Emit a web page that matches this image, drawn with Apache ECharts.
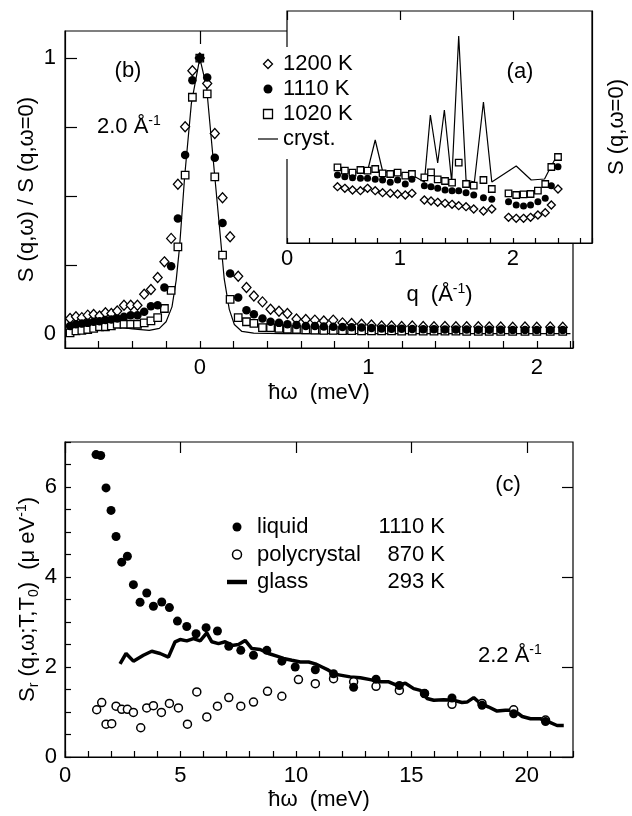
<!DOCTYPE html>
<html><head><meta charset="utf-8">
<script src="https://cdn.jsdelivr.net/npm/echarts@6/dist/echarts.min.js"></script>
<style>html,body{margin:0;padding:0;background:#fff}#c{width:632px;height:816px}</style>
</head><body><div id="c"></div>
<script>
// ---------- panel (b): S(q,w)/S(q,w=0) at 2.0 A^-1 ----------
const omegaB = [-0.77,-0.735,-0.70,-0.665,-0.63,-0.595,-0.56,-0.525,-0.49,-0.45,-0.41,-0.37,-0.33,-0.29,-0.25,-0.21,-0.17,-0.13,-0.087,-0.044,0,
  0.044,0.089,0.135,0.18,0.228,0.277,0.321,0.372,0.42,0.47,0.52,0.574,0.629,0.683,0.736,0.792,0.847,0.901,0.96,1.019,1.079,1.138,1.198,1.261,1.326,1.39,1.455,1.52,1.584,1.653,1.718,1.786,1.857,1.93,2.0,2.08,2.154];
const b1200 = [0.057,0.063,0.060,0.069,0.071,0.066,0.078,0.075,0.084,0.105,0.105,0.105,0.145,0.162,0.205,0.262,0.347,0.543,0.751,0.954,1,
  0.908,0.727,0.494,0.353,0.21,0.169,0.138,0.117,0.090,0.083,0.075,0.055,0.053,0.051,0.048,0.051,0.041,0.039,0.036,0.033,0.030,0.030,0.028,0.030,0.028,0.027,0.028,0.027,0.027,0.027,0.026,0.026,0.025,0.026,0.025,0.026,0.025];
const b1110 = [0.030,0.036,0.039,0.041,0.045,0.047,0.051,0.053,0.057,0.063,0.069,0.069,0.081,0.101,0.105,0.169,0.246,0.419,0.649,0.920,1,
  0.930,0.639,0.403,0.220,0.133,0.087,0.072,0.057,0.045,0.041,0.036,0.033,0.030,0.030,0.028,0.027,0.026,0.025,0.024,0.022,0.021,0.02,0.02,0.019,0.018,0.018,0.017,0.017,0.017,0.016,0.016,0.016,0.015,0.015,0.015,0.015,0.015];
const b1020 = [0.005,0.012,0.014,0.017,0.021,0.027,0.027,0.030,0.036,0.036,0.036,0.036,0.041,0.048,0.060,0.093,0.159,0.316,0.576,0.858,1,
  0.870,0.570,0.286,0.126,0.060,0.045,0.039,0.024,0.024,0.021,0.018,0.017,0.016,0.015,0.014,0.014,0.013,0.013,0.012,0.012,0.012,0.012,0.011,0.011,0.011,0.011,0.011,0.011,0.01,0.01,0.01,0.01,0.01,0.01,0.01,0.01,0.01];
const crystOmega = [-0.80,-0.70,-0.60,-0.50,-0.40,-0.30,-0.24,-0.20,-0.165,-0.14,-0.12,-0.09,-0.05,0,0.04,0.08,0.115,0.145,0.175,0.205,0.25,0.32,0.5,1.0,1.5,2.2];
const crystB = [0.0,0.007,0.014,0.027,0.019,0.014,0.021,0.045,0.099,0.196,0.316,0.57,0.836,1,0.896,0.63,0.40,0.20,0.09,0.035,0.01,0.004,0.002,0.002,0.002,0.002];
const bYTicks = [0,0.25,0.5,0.75,1];
const bYLabels = [0,1];
const bXMajor = [0,1,2];

// ---------- inset (a): S(q,w=0) vs q ----------
const qA = [0.447,0.512,0.580,0.650,0.713,0.781,0.846,0.914,0.979,1.047,1.106,1.216,1.275,1.334,1.399,1.461,1.520,1.585,1.653,1.739,1.813,1.961,2.029,2.094,2.156,2.221,2.286,2.340,2.399];
const a1200 = [0.563,0.547,0.530,0.523,0.547,0.523,0.503,0.497,0.490,0.480,0.497,0.430,0.420,0.407,0.397,0.387,0.373,0.363,0.340,0.320,0.340,0.257,0.247,0.247,0.257,0.280,0.303,0.380,0.540];
const a1110 = [0.680,0.663,0.653,0.647,0.647,0.637,0.630,0.607,0.630,0.590,0.637,0.573,0.563,0.547,0.530,0.523,0.523,0.503,0.480,0.453,0.437,0.413,0.380,0.370,0.380,0.413,0.447,0.573,0.763];
const a1020 = [0.757,0.723,0.703,0.730,0.723,0.740,0.697,0.690,0.703,0.673,0.690,0.657,0.707,0.637,0.620,0.603,0.803,0.590,0.573,0.630,0.540,0.497,0.480,0.487,0.490,0.523,0.590,0.760,0.860];
const qCryst = [0.447,0.512,0.580,0.650,0.713,0.781,0.846,0.914,0.979,1.047,1.106,1.216,1.269,1.334,1.393,1.458,1.520,1.585,1.659,1.739,1.813,2.029,2.162,2.280,2.334,2.399];
const aCryst = [0.74,0.72,0.70,0.72,0.72,1.03,0.72,0.70,0.70,0.68,0.68,0.61,1.28,0.80,1.33,0.61,2.07,0.63,0.61,1.41,0.61,0.77,0.63,0.64,0.76,0.89];
const aXMajor = [0,1,2];

// ---------- panel (c): S_r(q,w;T,T0) at 2.2 A^-1 ----------
const liquidE = [1.344,1.547,1.777,1.994,2.211,2.456,2.702,2.962,3.251,3.540,3.829,4.190,4.522,4.869,5.273,5.676,6.110,6.602,7.093,7.613,8.163,8.741,9.391,9.97,10.84,11.63,12.50,13.47,14.48,15.57,16.76,18.06,19.43,20.81];
const liquidV = [6.72,6.70,5.98,5.48,4.90,4.33,4.46,3.83,3.44,3.645,3.35,3.445,3.32,3.02,2.90,2.74,2.875,2.80,2.46,2.37,2.26,2.37,2.13,2.00,1.94,1.85,1.55,1.73,1.59,1.41,1.31,1.15,0.96,0.79];
const polyE = [1.373,1.590,1.777,2.023,2.211,2.456,2.702,2.962,3.28,3.54,3.829,4.175,4.522,4.912,5.303,5.708,6.141,6.602,7.093,7.613,8.163,8.770,9.391,10.11,10.84,11.63,12.50,13.47,14.48,15.57,16.76,18.06,19.43,20.81];
const polyV = [1.05,1.21,0.73,0.74,1.13,1.06,1.06,0.99,0.65,1.09,1.14,0.99,1.19,1.09,0.73,1.445,0.89,1.13,1.32,1.13,1.22,1.46,1.35,1.72,1.63,1.74,1.67,1.57,1.48,1.41,1.17,1.19,1.05,0.82];
const glassE = [2.384,2.644,2.962,3.395,3.757,4.118,4.479,4.768,4.985,5.274,5.563,5.852,6.141,6.358,6.647,6.936,7.225,7.514,7.802,8.091,8.453,8.814,9.175,9.464,9.825,10.19,10.55,10.84,11.13,11.41,11.70,11.92,12.35,12.79,13.22,13.65,14.02,14.38,14.74,15.10,15.39,15.68,15.97,16.40,16.83,17.19,17.41,17.70,17.99,18.35,18.71,19.07,19.43,19.80,20.16,20.59,20.95,21.31,21.60];
const glassV = [2.07,2.30,2.13,2.26,2.35,2.30,2.22,2.56,2.61,2.58,2.63,2.58,2.76,2.56,2.52,2.56,2.48,2.50,2.59,2.41,2.39,2.30,2.24,2.19,2.15,2.11,2.11,2.07,2.00,1.93,1.84,1.82,1.78,1.76,1.72,1.67,1.67,1.59,1.64,1.52,1.48,1.30,1.26,1.27,1.26,1.21,1.22,1.32,1.19,1.11,1.02,1.04,1.04,0.90,0.85,0.85,0.78,0.70,0.70];
const cXMajor = [0,5,10,15,20];
const cYMajor = [0,2,4,6];

const legendB = ['1200 K','1110 K','1020 K','cryst.'];
const legendC = ['liquid','polycrystal','glass'];
const tempsC = ['1110 K','870 K','293 K'];

// ---------- chart ----------
const FONT = "'Liberation Sans', Arial, Helvetica, sans-serif";
const FS = 22;
const pts = (xs, ys) => xs.map((x, i) => [x, ys[i]]);
const isInt = v => Math.abs(v - Math.round(v)) < 1e-6;
const lbl = {color:'#000', fontFamily:FONT, fontSize:FS};
const axLine = {show:true, onZero:false, lineStyle:{color:'#000', width:1.2}};
const noLine = {show:false, onZero:false};
const tick = (len) => ({show:true, inside:true, length:len, lineStyle:{color:'#000', width:1.2}});
const hollow = {color:'#fff', borderColor:'#000', borderWidth:1.3, opacity:1};
const filled = {color:'#000', borderWidth:0, opacity:1};
const openC = {color:'#fff', borderColor:'#000', borderWidth:1.5, opacity:1};
const nameStyle = {color:'#000', fontFamily:FONT, fontSize:FS,
  rich:{sup:{fontSize:14, verticalAlign:'top', fontFamily:FONT, color:'#000', lineHeight:26},
        sub:{fontSize:14, verticalAlign:'bottom', fontFamily:FONT, color:'#000', lineHeight:26}}};

const chart = echarts.init(document.getElementById('c'), null, {renderer:'canvas'});
chart.setOption({
  animation:false,
  backgroundColor:'#fff',
  grid:[
    {left:65, top:31, width:508, height:317, show:true, borderColor:'#000', borderWidth:1.2, backgroundColor:'transparent', outerBoundsMode:'none', containLabel:false},
    {left:287, top:11, width:305, height:232, show:true, borderColor:'#000', borderWidth:1.2, backgroundColor:'#fff', z:10, outerBoundsMode:'none', containLabel:false},
    {left:65, top:442, width:508, height:315, show:true, borderColor:'#000', borderWidth:1.2, backgroundColor:'transparent', outerBoundsMode:'none', containLabel:false}
  ],
  xAxis:[
    {gridIndex:0, type:'value', min:-0.8, max:2.215, interval:0.2, axisLine:axLine, axisTick:tick(7),
     axisLabel:{...lbl, margin:9, formatter:v => isInt(v) ? String(Math.round(v)) : ''}, splitLine:{show:false},
     name:'ħω  (meV)', nameLocation:'middle', nameGap:34, nameTextStyle:nameStyle, nameMoveOverlap:false},
    {gridIndex:0, type:'value', min:-0.8, max:2.215, axisLine:noLine, axisTick:{...tick(13), customValues:bXMajor},
     axisLabel:{show:false}, splitLine:{show:false}},
    {gridIndex:1, type:'value', min:0, max:2.7, interval:0.2, axisLine:axLine, axisTick:tick(5), z:11,
     axisLabel:{...lbl, margin:5, formatter:v => isInt(v) ? String(Math.round(v)) : ''}, splitLine:{show:false},
     name:'q  (Å{sup|-1})', nameLocation:'middle', nameGap:39, nameTextStyle:nameStyle, nameMoveOverlap:false},
    {gridIndex:1, type:'value', min:0, max:2.7, axisLine:noLine, axisTick:{...tick(9), customValues:aXMajor}, z:11,
     axisLabel:{show:false}, splitLine:{show:false}},
    {gridIndex:2, type:'value', min:0, max:22, interval:1, axisLine:axLine, axisTick:tick(6),
     axisLabel:{...lbl, margin:8, formatter:v => (v % 5 === 0 && v <= 20) ? String(v) : ''}, splitLine:{show:false},
     name:'ħω  (meV)', nameLocation:'middle', nameGap:32, nameTextStyle:nameStyle, nameMoveOverlap:false},
    {gridIndex:2, type:'value', min:0, max:22, axisLine:noLine, axisTick:{...tick(11), customValues:cXMajor},
     axisLabel:{show:false}, splitLine:{show:false}}
  ],
  yAxis:[
    {gridIndex:0, type:'value', min:-0.05, max:1.098, axisLine:axLine, axisTick:{...tick(12), customValues:bYTicks},
     axisLabel:{...lbl, margin:9, customValues:bYLabels}, splitLine:{show:false},
     name:'S (q,ω) / S (q,ω=0)', nameLocation:'middle', nameGap:27, nameRotate:90, nameTextStyle:nameStyle, nameMoveOverlap:false},
    {gridIndex:1, type:'value', min:0, max:2.32, position:'right', axisLine:axLine, axisTick:{show:false}, z:11,
     axisLabel:{show:false}, splitLine:{show:false},
     name:'S (q,ω=0)', nameLocation:'middle', nameGap:14, nameRotate:90, nameTextStyle:nameStyle, nameMoveOverlap:false},
    {gridIndex:2, type:'value', min:0, max:7, interval:0.5, axisLine:axLine, axisTick:tick(6),
     axisLabel:{...lbl, margin:8, formatter:v => (isInt(v) && Math.round(v) % 2 === 0) ? String(Math.round(v)) : ''}, splitLine:{show:false},
     name:'S{sub|r} (q,ω;T,T{sub|0})  (μ eV{sup|-1})', nameLocation:'middle', nameGap:24, nameRotate:90, nameTextStyle:nameStyle, nameMoveOverlap:false},
    {gridIndex:2, type:'value', min:0, max:7, axisLine:noLine, axisTick:{...tick(11), customValues:cYMajor},
     axisLabel:{show:false}, splitLine:{show:false}}
  ],
  legend:[
    {orient:'vertical', left:254, top:47, itemWidth:20, itemHeight:9, itemGap:3, padding:[6,4,9,4],
     backgroundColor:'#fff', selectedMode:false, z:20, symbolKeepAspect:true,
     textStyle:{color:'#000', fontFamily:FONT, fontSize:FS, lineHeight:22},
     data:[
       {name:legendB[0], icon:'path://M5,0 L10,5 L5,10 L0,5 Z', itemStyle:hollow},
       {name:legendB[1], icon:'circle', itemStyle:filled},
       {name:legendB[2], icon:'path://M0,0 L8,0 L8,8 L0,8 Z', itemStyle:hollow},
       {name:legendB[3], icon:'path://M0,0 L20,0 L20,1.2 L0,1.2 Z', itemStyle:filled}
     ]},
    {orient:'vertical', left:227, top:516, itemWidth:20, itemHeight:9, itemGap:5.5, padding:0,
     selectedMode:false, z:20, symbolKeepAspect:true,
     textStyle:{color:'#000', fontFamily:FONT, fontSize:FS, lineHeight:22,
       rich:{n:{fontFamily:FONT, fontSize:FS, color:'#000', width:110, padding:[0,0,0,5]},
             t:{fontFamily:FONT, fontSize:FS, color:'#000', width:78, align:'right'}}},
     formatter: name => '{n|' + name + '}{t|' + tempsC[legendC.indexOf(name)] + '}',
     data:[
       {name:legendC[0], icon:'circle', itemStyle:filled},
       {name:legendC[1], icon:'circle', itemStyle:openC},
       {name:legendC[2], icon:'path://M0,0 L18,0 L18,4 L0,4 Z', itemStyle:filled}
     ]}
  ],
  graphic:[
    {type:'text', x:128, y:71, z:30, style:{text:'(b)', font:FS+'px '+FONT, fill:'#000', align:'center', verticalAlign:'middle'}},
    {type:'text', x:97, y:127, z:30, style:{text:'2.0 Å{sup|-1}', font:FS+'px '+FONT, fill:'#000', align:'left', verticalAlign:'middle',
      rich:{sup:{fontSize:14, fontFamily:FONT, verticalAlign:'top', lineHeight:26, fill:'#000'}}}},
    {type:'text', x:520, y:72, z:30, style:{text:'(a)', font:FS+'px '+FONT, fill:'#000', align:'center', verticalAlign:'middle'}},
    {type:'text', x:508, y:485, z:30, style:{text:'(c)', font:FS+'px '+FONT, fill:'#000', align:'center', verticalAlign:'middle'}},
    {type:'text', x:478, y:656, z:30, style:{text:'2.2 Å{sup|-1}', font:FS+'px '+FONT, fill:'#000', align:'left', verticalAlign:'middle',
      rich:{sup:{fontSize:14, fontFamily:FONT, verticalAlign:'top', lineHeight:26, fill:'#000'}}}}
  ],
  series:[
    // panel (b)
    {name:legendB[3], type:'line', xAxisIndex:0, yAxisIndex:0, data:pts(crystOmega, crystB), symbol:'none', lineStyle:{color:'#000', width:1.2}, itemStyle:{color:'#000'}, z:2},
    {name:legendB[0], type:'scatter', xAxisIndex:0, yAxisIndex:0, data:pts(omegaB, b1200), symbol:'diamond', symbolSize:[9,10], itemStyle:hollow, z:3},
    {name:legendB[2], type:'scatter', xAxisIndex:0, yAxisIndex:0, data:pts(omegaB, b1020), symbol:'rect', symbolSize:7.5, itemStyle:hollow, z:4},
    {name:legendB[1], type:'scatter', xAxisIndex:0, yAxisIndex:0, data:pts(omegaB, b1110), symbol:'circle', symbolSize:8.5, itemStyle:filled, z:5},
    // inset (a)
    {name:legendB[3], type:'line', xAxisIndex:2, yAxisIndex:1, data:pts(qCryst, aCryst), symbol:'none', lineStyle:{color:'#000', width:1.2}, itemStyle:{color:'#000'}, z:12},
    {name:legendB[0], type:'scatter', xAxisIndex:2, yAxisIndex:1, data:pts(qA, a1200), symbol:'diamond', symbolSize:[8,8], itemStyle:hollow, z:13},
    {name:legendB[2], type:'scatter', xAxisIndex:2, yAxisIndex:1, data:pts(qA, a1020), symbol:'rect', symbolSize:6.5, itemStyle:hollow, z:13},
    {name:legendB[1], type:'scatter', xAxisIndex:2, yAxisIndex:1, data:pts(qA, a1110), symbol:'circle', symbolSize:7, itemStyle:filled, z:14},
    // panel (c)
    {name:legendC[2], type:'line', xAxisIndex:4, yAxisIndex:2, data:pts(glassE, glassV), symbol:'none', lineStyle:{color:'#000', width:3.5}, itemStyle:{color:'#000'}, z:2},
    {name:legendC[1], type:'scatter', xAxisIndex:4, yAxisIndex:2, data:pts(polyE, polyV), symbol:'circle', symbolSize:8, itemStyle:openC, z:3},
    {name:legendC[0], type:'scatter', xAxisIndex:4, yAxisIndex:2, data:pts(liquidE, liquidV), symbol:'circle', symbolSize:9, itemStyle:filled, z:4}
  ]
});
</script></body></html>
